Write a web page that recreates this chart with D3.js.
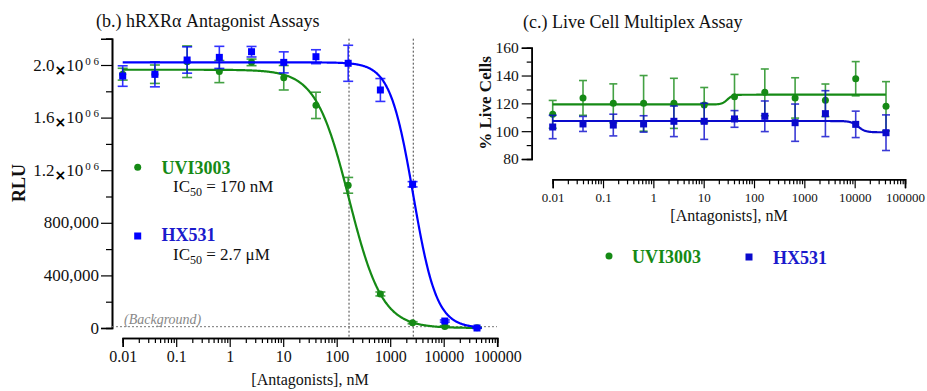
<!DOCTYPE html>
<html>
<head>
<meta charset="utf-8">
<script src="https://cdn.jsdelivr.net/npm/d3@7"></script>
<style>
  body { margin: 0; background: #fff; }
  svg { display: block; }
</style>
</head>
<body>
<svg id="chart" width="927" height="391"></svg>
<script>
// concentrations (nM), 4-fold dilutions
const conc = [0.01, 0.04, 0.16, 0.64, 2.56, 10.24, 40.96, 163.84, 655.36, 2621.44, 10485.76, 41943.04];

// (b.) antagonist assay, RLU
const uviRLU   = [1930000, 1930000, 2025000, 1950000, 2020000, 1903000, 1693000, 1085000, 259000, 40000, 12000, 2000];
const uviRLUsd = [45000, 70000, 120000, 84000, 25000, 93000, 100000, 60000, 15000, 8000, 5000, 3000];
const hxRLU    = [1916000, 1929000, 2038000, 2058000, 2101000, 2020000, 2063000, 2013000, 1810000, 1093000, 53000, 0];
const hxRLUsd  = [78000, 95000, 100000, 84000, 40000, 80000, 53000, 137000, 87000, 20000, 8000, 3000];

// (c.) live cell multiplex, % live cells
const uviLive   = [112.1, 123.9, 120.0, 120.0, 120.0, 118.8, 124.8, 127.9, 123.9, 122.2, 137.7, 117.9];
const uviLiveSd = [10, 12.5, 14, 20, 18, 12.6, 16, 16.8, 14.5, 11.7, 12.3, 17.7];
const hxLive    = [103.0, 105.2, 104.4, 105.2, 107.1, 107.1, 108.8, 110.7, 106.1, 112.6, 104.9, 98.9];
const hxLiveSd  = [8.4, 5.4, 7.8, 5.9, 11, 13, 6, 11, 13.4, 16.5, 9.5, 12.8];

// fitted curves: [bottom, top, EC50 (nM), hill]
const uviRLUfit  = [0, 1964000, 170, -1.4];
const hxRLUfit   = [0, 2020000, 2700, -2.0];
const uviLiveFit = [119.2, 126.2, 29.5, 8];
const hxLiveFit  = [99.2, 107.3, 11750, -6];

// axes
const xTicks = [0.01, 0.1, 1, 10, 100, 1000, 10000, 100000];
const xTickLabels = ["0.01", "0.1", "1", "10", "100", "1000", "10000", "100000"];
const rluTicks = [0, 400000, 800000, 1200000, 1600000, 2000000];
const rluTickLabels = ["0", "400,000", "800,000", ["1.2", "0 6"], ["1.6", "0 6"], ["2.0", "0 6"]];
const rluMinor = [200000, 600000, 1000000, 1400000, 1800000, 2200000];
const liveTicks = [80, 100, 120, 140, 160];
const liveMinor = [90, 110, 130, 150];
const ic50Lines = [170, 2700];
const backgroundRLU = 10000;

const SERIF = "'Liberation Serif', Tinos, 'Times New Roman', serif";
const GREEN = "#158a15", BLUE = "#0000ff", BLUE2 = "#0a0acc";
const svg = d3.select("#chart");

const logMinor = [];
xTicks.slice(0, -1).forEach(d => { for (let k = 2; k < 10; k++) logMinor.push(d * k); });

function fourPL(p, c) {
  return p[0] + (p[1] - p[0]) / (1 + Math.pow(10, (Math.log10(p[2]) - Math.log10(c)) * p[3]));
}

function txt(g, x, y, size, s) {
  return g.append("text").attr("x", x).attr("y", y)
    .style("font-family", SERIF).style("font-size", size + "px").attr("fill", "#111").text(s);
}

function logXAxis(g, x, y0, fontSize) {
  const ax = g.append("g").attr("transform", `translate(0,${y0})`);
  ax.append("g").call(d3.axisBottom(x).tickValues(logMinor).tickSize(5).tickFormat(""));
  ax.append("g").call(d3.axisBottom(x).tickValues(xTicks).tickSize(9)
      .tickFormat((d, i) => xTickLabels[i]).tickPadding(4));
  ax.selectAll(".domain").attr("stroke-width", 1.6);
  ax.selectAll(".tick line").attr("stroke-width", 1.2);
  ax.selectAll("text").style("font-family", SERIF).style("font-size", fontSize + "px").attr("fill", "#111");
  return ax;
}

function drawSeries(g, x, y, vals, sds, color, shape, cap, size) {
  const grp = g.append("g");
  vals.forEach((v, i) => {
    const cx = x(conc[i]);
    const lo = y(v - sds[i]), hi = y(v + sds[i]);
    const eb = grp.append("g").attr("stroke", color).attr("stroke-width", 1.6).attr("opacity", 0.8);
    eb.append("line").attr("x1", cx).attr("x2", cx).attr("y1", lo).attr("y2", hi);
    eb.append("line").attr("x1", cx - cap).attr("x2", cx + cap).attr("y1", lo).attr("y2", lo);
    eb.append("line").attr("x1", cx - cap).attr("x2", cx + cap).attr("y1", hi).attr("y2", hi);
  });
  vals.forEach((v, i) => {
    if (shape === "circle") {
      grp.append("circle").attr("cx", x(conc[i])).attr("cy", y(v)).attr("r", size / 2).attr("fill", color);
    } else {
      grp.append("rect").attr("x", x(conc[i]) - size / 2).attr("y", y(v) - size / 2)
        .attr("width", size).attr("height", size).attr("fill", color);
    }
  });
}

function drawFit(g, x, y, p, color) {
  const pts = d3.range(Math.log10(conc[0]), Math.log10(conc[conc.length - 1]) + 0.001, 0.01)
    .map(l => [x(Math.pow(10, l)), y(fourPL(p, Math.pow(10, l)))]);
  g.append("path").attr("d", d3.line()(pts)).attr("fill", "none")
    .attr("stroke", color).attr("stroke-width", 2.2);
}

// ---------------- (b.) left panel ----------------
const xL = d3.scaleLog().domain([0.01, 100000]).range([122.7, 497.2]);
const yL = d3.scaleLinear().domain([0, 2200000]).range([328, 38.7]);
const left = svg.append("g");

txt(left, 96, 27, 18, "(b.) hRXRα Antagonist Assays");

// y axis
const yAx = left.append("g").attr("transform", "translate(112,0)");
yAx.append("g").call(d3.axisLeft(yL).tickValues(rluMinor).tickSize(6).tickFormat(""));
yAx.append("g").call(d3.axisLeft(yL).tickValues(rluTicks).tickSize(11).tickFormat(""));
yAx.selectAll(".domain").attr("stroke-width", 1.6);
yAx.selectAll(".tick line").attr("stroke-width", 1.2);
rluTicks.forEach((t, i) => {
  const lab = rluTickLabels[i];
  const tx = txt(left, 99, yL(t) + 5.5, 17, null).attr("text-anchor", "end");
  if (typeof lab === "string") { tx.text(lab); return; }
  tx.append("tspan").text(lab[0]);
  tx.append("tspan").attr("dy", 4).style("font-weight", "bold").style("font-family", "'DejaVu Sans'")
    .style("font-size", "14px").attr("fill", "#000").text("×");
  tx.append("tspan").attr("dy", -4).text("10");
  tx.append("tspan").attr("dx", 2).attr("dy", -6).style("font-size", "11px").text(lab[1]);
});
txt(left, 0, 0, 18, "RLU").attr("x", null).attr("y", null)
  .attr("transform", "translate(25,183) rotate(-90)").attr("text-anchor", "middle").style("font-weight", "bold");

// x axis
logXAxis(left, xL, 338, 16);
txt(left, 310, 385, 16, "[Antagonists], nM").attr("text-anchor", "middle");

// reference lines
ic50Lines.forEach(c => {
  left.append("line").attr("x1", xL(c)).attr("x2", xL(c)).attr("y1", yL.range()[1]).attr("y2", 338)
    .attr("stroke", "#444").attr("stroke-width", 1).attr("stroke-dasharray", "2,2");
});
left.append("line").attr("x1", 112).attr("x2", 497).attr("y1", yL(backgroundRLU)).attr("y2", yL(backgroundRLU))
  .attr("stroke", "#777").attr("stroke-width", 1).attr("stroke-dasharray", "2,2");
txt(left, 124, 324, 14, "(Background)").style("font-style", "italic").attr("fill", "#888");

drawSeries(left, xL, yL, uviRLU, uviRLUsd, GREEN, "circle", 5, 7);
drawFit(left, xL, yL, uviRLUfit, GREEN);
drawSeries(left, xL, yL, hxRLU, hxRLUsd, BLUE, "square", 5, 7);
drawFit(left, xL, yL, hxRLUfit, BLUE);

// legend
const legL = left.append("g");
legL.append("circle").attr("cx", 137.7).attr("cy", 167.3).attr("r", 3.5).attr("fill", GREEN);
txt(legL, 161.5, 174, 18, "UVI3003").style("font-weight", "bold").attr("fill", GREEN);
const ic1 = txt(legL, 173, 192, 17, null);
ic1.append("tspan").text("IC");
ic1.append("tspan").attr("dy", 4).style("font-size", "12px").text("50");
ic1.append("tspan").attr("dy", -4).text(" = 170 nM");
legL.append("rect").attr("x", 134.2).attr("y", 232.5).attr("width", 7).attr("height", 7).attr("fill", BLUE);
txt(legL, 161.5, 241, 18, "HX531").style("font-weight", "bold").attr("fill", "#1a1acc");
const ic2 = txt(legL, 173, 260, 17, null);
ic2.append("tspan").text("IC");
ic2.append("tspan").attr("dy", 4).style("font-size", "12px").text("50");
ic2.append("tspan").attr("dy", -4).text(" = 2.7 μM");

// ---------------- (c.) right panel ----------------
const xR = d3.scaleLog().domain([0.01, 100000]).range([552.7, 905]);
const yR = d3.scaleLinear().domain([80, 160]).range([159, 47.7]);
const right = svg.append("g");

txt(right, 523, 28, 18, "(c.) Live Cell Multiplex Assay");

const yAxR = right.append("g").attr("transform", "translate(531.7,0)");
yAxR.append("g").call(d3.axisLeft(yR).tickValues(liveMinor).tickSize(5).tickFormat(""));
yAxR.append("g").call(d3.axisLeft(yR).tickValues(liveTicks).tickSize(10).tickPadding(3).tickFormat(d3.format("d")));
yAxR.selectAll(".domain").attr("stroke-width", 1.6);
yAxR.selectAll(".tick line").attr("stroke-width", 1.2);
yAxR.selectAll("text").style("font-family", SERIF).style("font-size", "15.5px").attr("fill", "#111");
txt(right, 0, 0, 17, "% Live Cells").attr("x", null).attr("y", null)
  .attr("transform", "translate(491,103) rotate(-90)").attr("text-anchor", "middle").style("font-weight", "bold");

logXAxis(right, xR, 179.3, 13);
txt(right, 729, 221, 16, "[Antagonists], nM").attr("text-anchor", "middle");

drawSeries(right, xR, yR, uviLive, uviLiveSd, GREEN, "circle", 4, 7);
drawFit(right, xR, yR, uviLiveFit, GREEN);
drawSeries(right, xR, yR, hxLive, hxLiveSd, BLUE2, "square", 4, 7);
drawFit(right, xR, yR, hxLiveFit, BLUE2);

const legR = right.append("g");
legR.append("circle").attr("cx", 609).attr("cy", 256).attr("r", 3.5).attr("fill", GREEN);
txt(legR, 632, 263, 18, "UVI3003").style("font-weight", "bold").attr("fill", GREEN);
legR.append("rect").attr("x", 745.5).attr("y", 253.5).attr("width", 7).attr("height", 7).attr("fill", BLUE2);
txt(legR, 773, 264, 18, "HX531").style("font-weight", "bold").attr("fill", "#1a1acc");
</script>
</body>
</html>
